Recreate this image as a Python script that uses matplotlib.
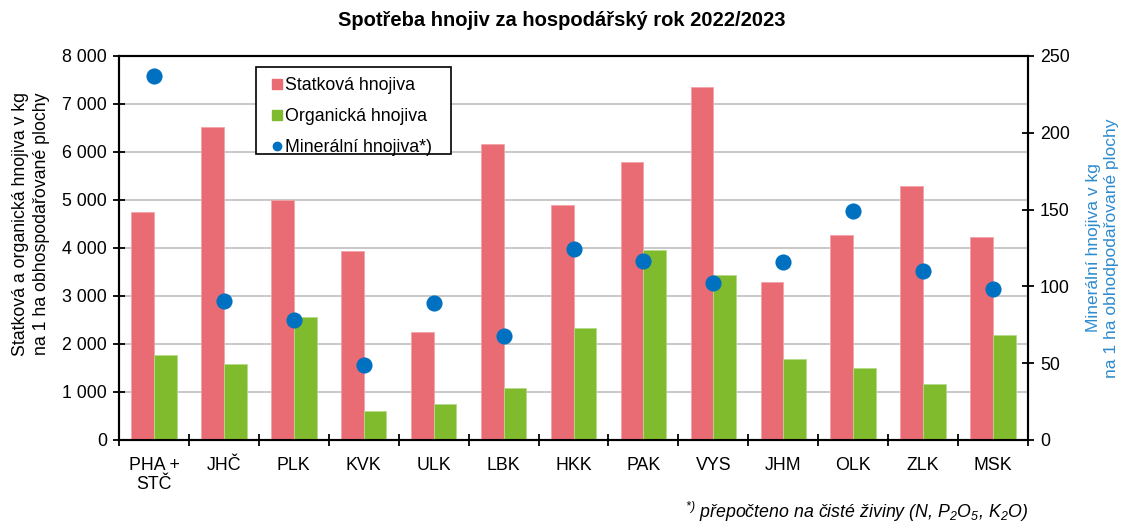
import matplotlib
matplotlib.use("Agg")
import matplotlib.pyplot as plt
import numpy as np
from matplotlib.lines import Line2D
from matplotlib.patches import Rectangle
from matplotlib.ticker import FuncFormatter

plt.rcParams['font.family'] = ['Liberation Sans', 'DejaVu Sans']
plt.rcParams['mathtext.fontset'] = 'custom'
plt.rcParams['mathtext.rm'] = 'Liberation Sans:italic'
plt.rcParams['mathtext.it'] = 'Liberation Sans:italic'
plt.rcParams['mathtext.default'] = 'rm'

regions = ["PHA +\nSTČ", "JHČ", "PLK", "KVK", "ULK", "LBK", "HKK", "PAK", "VYS", "JHM", "OLK", "ZLK", "MSK"]
statkova = [4760, 6530, 5010, 3940, 2240, 6170, 4900, 5790, 7350, 3290, 4280, 5290, 4230]
organicka = [1780, 1580, 2560, 610, 740, 1080, 2330, 3960, 3440, 1690, 1500, 1170, 2190]
mineralni = [237, 90.5, 78, 49, 89, 68, 124.5, 116.5, 102, 116, 149, 110, 98]

red = '#E96B73'
green = '#80BB2E'
blue = '#0070C0'
lblue = '#2E8BCF'

FS = 12.8
W, H = 1124, 522

fig = plt.figure(figsize=(W/100, H/100), dpi=100)
ax = fig.add_axes([119/W, 1 - 440/H, (1028-119)/W, (440-56)/H])
ax2 = ax.twinx()

x = np.arange(len(regions))
w = 0.325
ax.bar(x - w/2, statkova, w, color=red, edgecolor='#F2A3A8', linewidth=0.6, zorder=3)
ax.bar(x + w/2, organicka, w, color=green, edgecolor='#B5D98A', linewidth=0.6, zorder=3)
ax2.scatter(x, mineralni, s=135, color=blue, zorder=5, linewidths=0)

ax.set_xlim(-0.5, len(regions) - 0.5)
ax.set_ylim(0, 8000)
ax2.set_ylim(0, 250)
ax.set_yticks(np.arange(0, 8001, 1000))
ax2.set_yticks(np.arange(0, 251, 50))
ax.yaxis.set_major_formatter(FuncFormatter(lambda v, p: f"{int(v):,}".replace(",", " ")))
ax.grid(axis='y', color='#BFBFBF', linewidth=1.2, zorder=0)
ax.set_axisbelow(True)

ax.set_xticks(x)
ax.set_xticklabels(regions, fontsize=FS, linespacing=1.15)
ax.set_xticks(np.arange(-0.5, len(regions), 1), minor=True)
ax.tick_params(axis='x', which='major', length=0, pad=12)
ax.tick_params(axis='x', which='minor', direction='inout', length=9, width=1.3)
ax.tick_params(axis='y', direction='inout', length=9, width=1.3, labelsize=FS, pad=4)
ax2.tick_params(axis='y', direction='inout', length=9, width=1.3, labelsize=FS, pad=4)

for a in (ax, ax2):
    for s in a.spines.values():
        s.set_linewidth(1.5)
        s.set_color('black')

ax.set_ylabel("Statková a organická hnojiva v kg\nna 1 ha obhospodařované plochy", fontsize=FS, linespacing=1.3)
ax.yaxis.set_label_coords(-0.0757, 0.5625)
ax2.set_ylabel("Minerální hnojiva v kg\nna 1 ha obhodpodařované plochy", fontsize=12.5, color=lblue,
               rotation=90, labelpad=12, linespacing=1.25)

fig.text(0.5, 1 - 20/H, "Spotřeba hnojiv za hospodářský rok 2022/2023", ha='center', va='center',
         fontsize=14.5, fontweight='bold')

# legend box
fig.patches.append(Rectangle((256/W, 1 - 154/H), (451-256)/W, (154-67)/H, transform=fig.transFigure,
                             facecolor='white', edgecolor='black', linewidth=1.2, zorder=9))
handles = [
    Line2D([], [], marker='s', color='none', markerfacecolor=red, markeredgecolor=red, markersize=7.3),
    Line2D([], [], marker='s', color='none', markerfacecolor=green, markeredgecolor=green, markersize=7.3),
    Line2D([], [], marker='o', color='none', markerfacecolor=blue, markeredgecolor=blue, markersize=6),
]
leg = fig.legend(handles, ["Statková hnojiva", "Organická hnojiva", "Minerální hnojiva*)"],
                 loc='upper left', bbox_to_anchor=(270/W, 1 - 77/H), bbox_transform=fig.transFigure,
                 fontsize=FS, frameon=False, handlelength=0.8, handletextpad=0.05,
                 labelspacing=0.78, borderpad=0, borderaxespad=0)
leg.set_zorder(10)

fig.text(1028/W, 1 - 512/H, r"$^{*)}$ přepočteno na čisté živiny (N, P$_2$O$_5$, K$_2$O)",
         ha='right', va='center', fontsize=FS, style='italic')

fig.savefig("out.png", dpi=100)
